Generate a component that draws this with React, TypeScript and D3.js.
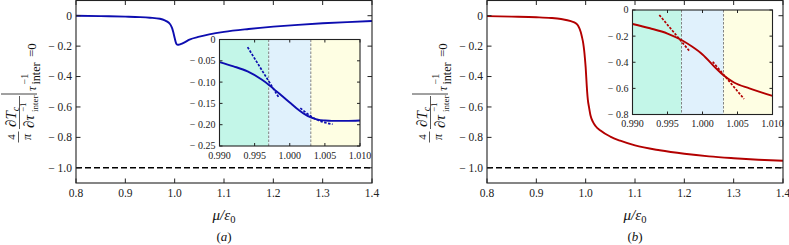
import * as React from 'react';
import * as d3 from 'd3';

// panel (a): main curve, mu / epsilon_0 against the normalised derivative
const muA: number[] = [0.8, 0.85, 0.9, 0.93, 0.95, 0.97, 0.98, 0.985, 0.99, 0.993, 0.995, 0.997, 1.0, 1.003, 1.005, 1.008, 1.012, 1.02, 1.03, 1.05, 1.07, 1.1, 1.15, 1.2, 1.25, 1.3, 1.35, 1.4];
const valA: number[] = [0, -0.003, -0.006, -0.009, -0.013, -0.02, -0.03, -0.039, -0.053, -0.068, -0.083, -0.106, -0.147, -0.182, -0.19, -0.191, -0.187, -0.175, -0.157, -0.138, -0.123, -0.106, -0.087, -0.072, -0.06, -0.05, -0.042, -0.035];

// panel (b): main curve
const muB: number[] = [0.8, 0.85, 0.9, 0.93, 0.95, 0.97, 0.98, 0.985, 0.99, 0.9925, 0.995, 0.997, 0.9985, 1.0, 1.002, 1.003, 1.0045, 1.0067, 1.01, 1.015, 1.02, 1.03, 1.05, 1.07, 1.1, 1.15, 1.2, 1.25, 1.3, 1.35, 1.4];
const valB: number[] = [-0.003, -0.006, -0.01, -0.015, -0.022, -0.036, -0.05, -0.068, -0.107, -0.14, -0.18, -0.23, -0.28, -0.34, -0.45, -0.5, -0.555, -0.6, -0.658, -0.7, -0.725, -0.755, -0.795, -0.822, -0.853, -0.885, -0.908, -0.925, -0.937, -0.947, -0.954];

// insets (zoom around mu = epsilon_0)
const insetMuA: number[] = [0.99, 0.992, 0.994, 0.996, 0.997, 0.998, 0.999, 1.0, 1.001, 1.002, 1.003, 1.004, 1.005, 1.006, 1.008, 1.01];
const insetValA: number[] = [-0.053, -0.063, -0.075, -0.094, -0.106, -0.12, -0.134, -0.148, -0.162, -0.174, -0.183, -0.188, -0.19, -0.191, -0.191, -0.19];
const insetMuB: number[] = [0.99, 0.9925, 0.995, 0.997, 0.9985, 1.0, 1.002, 1.003, 1.0045, 1.0067, 1.01];
const insetValB: number[] = [-0.107, -0.14, -0.18, -0.23, -0.28, -0.34, -0.45, -0.5, -0.555, -0.6, -0.658];

// asymptotic (dashed) approximations in the insets
const tangentMuA1: number[] = [0.994, 0.9984];
const tangentValA1: number[] = [-0.018, -0.135];
const tangentMuA2: number[] = [1.0015, 1.0036, 1.0061];
const tangentValA2: number[] = [-0.161, -0.186, -0.199];
const tangentMuB1: number[] = [0.99383, 0.99821];
const tangentValB1: number[] = [-0.038, -0.319];
const tangentMuB2: number[] = [1.00146, 1.00593];
const tangentValB2: number[] = [-0.396, -0.681];

// ticks and regions
const mainXTicks: number[] = [0.8, 0.9, 1.0, 1.1, 1.2, 1.3, 1.4];
const mainYTicks: number[] = [0, -0.2, -0.4, -0.6, -0.8, -1.0];
const insetXTicks: number[] = [0.99, 0.995, 1.0, 1.005, 1.01];
const insetYTicksA: number[] = [0, -0.05, -0.1, -0.15, -0.2, -0.25];
const insetYTicksB: number[] = [0, -0.2, -0.4, -0.6, -0.8];
const regionEdges: number[] = [0.99, 0.997, 1.003, 1.01];
const regionColors: string[] = ['#c3f6e8', '#e0f1fc', '#fefee3'];
const limitValue = -1.0;

const FONT = "'Liberation Serif', 'Times New Roman', Times, 'DejaVu Serif', serif";

const signed = (digits: number) => (v: number) =>
	Math.abs(v) < 1e-9 ? '0' : (v < 0 ? '\u2212 ' : '') + Math.abs(v).toFixed(digits);

interface IBox {
	left: number;
	right: number;
	top: number;
	bottom: number;
}

interface IPanel {
	box: IBox;
	mu: number[];
	val: number[];
	color: string;
	insetBox: IBox;
	insetMu: number[];
	insetVal: number[];
	insetYTicks: number[];
	insetDigits: number;
	tangents: [number[], number[]][];
	labelX: number;
	caption: string;
}

class ChartPanels extends React.Component<any, any> {
	private svgRef = React.createRef<SVGSVGElement>();

	public render() {
		return <svg ref={this.svgRef} width={789} height={245} style={{ display: 'block', fontFamily: FONT }} />;
	}

	public componentDidMount() {
		document.body.style.margin = '0';
		const svg = d3.select(this.svgRef.current);
		svg.selectAll('*').remove();
		svg.append('rect').attr('width', 789).attr('height', 245).attr('fill', '#fff');

		this.drawPanel(svg, {
			box: { left: 76, right: 372, top: 0.5, bottom: 183 },
			mu: muA,
			val: valA,
			color: '#0d0db0',
			insetBox: { left: 219.5, right: 360, top: 39.5, bottom: 146 },
			insetMu: insetMuA,
			insetVal: insetValA,
			insetYTicks: insetYTicksA,
			insetDigits: 2,
			tangents: [[tangentMuA1, tangentValA1], [tangentMuA2, tangentValA2]],
			labelX: 0,
			caption: 'a',
		});
		this.drawPanel(svg, {
			box: { left: 487, right: 783, top: 0.5, bottom: 183 },
			mu: muB,
			val: valB,
			color: '#b30000',
			insetBox: { left: 632.5, right: 772.5, top: 10, bottom: 114.5 },
			insetMu: insetMuB,
			insetVal: insetValB,
			insetYTicks: insetYTicksB,
			insetDigits: 1,
			tangents: [[tangentMuB1, tangentValB1], [tangentMuB2, tangentValB2]],
			labelX: 411,
			caption: 'b',
		});
	}

	public drawFrame(g: d3.Selection<any, any, any, any>, b: IBox, x: d3.ScaleLinear<number, number>, y: d3.ScaleLinear<number, number>,
		xTicks: number[], yTicks: number[], tick: number, fontSize: number, xFmt: (v: number) => string, yFmt: (v: number) => string): void {
		// ticks pointing inwards on all four sides
		xTicks.forEach((t) => {
			g.append('line').attr('x1', x(t)).attr('x2', x(t)).attr('y1', b.bottom).attr('y2', b.bottom - tick).attr('stroke', '#222').attr('stroke-width', 1);
			g.append('line').attr('x1', x(t)).attr('x2', x(t)).attr('y1', b.top).attr('y2', b.top + tick).attr('stroke', '#222').attr('stroke-width', 1);
			g.append('text').attr('x', x(t)).attr('y', b.bottom + fontSize * 1.25).attr('text-anchor', 'middle')
				.attr('font-size', fontSize).attr('font-family', FONT).attr('fill', '#222').text(xFmt(t));
		});
		yTicks.forEach((t) => {
			g.append('line').attr('x1', b.left).attr('x2', b.left + tick).attr('y1', y(t)).attr('y2', y(t)).attr('stroke', '#222').attr('stroke-width', 1);
			g.append('line').attr('x1', b.right).attr('x2', b.right - tick).attr('y1', y(t)).attr('y2', y(t)).attr('stroke', '#222').attr('stroke-width', 1);
			g.append('text').attr('x', b.left - 4).attr('y', y(t) + fontSize * 0.34).attr('text-anchor', 'end')
				.attr('font-size', fontSize).attr('font-family', FONT).attr('fill', '#222').text(yFmt(t));
		});
		g.append('rect').attr('x', b.left).attr('y', b.top).attr('width', b.right - b.left).attr('height', b.bottom - b.top)
			.attr('fill', 'none').attr('stroke', '#222').attr('stroke-width', 1.1);
	}

	public drawPanel(svg: d3.Selection<any, any, any, any>, p: IPanel): void {
		const b = p.box;
		const g = svg.append('g');
		const x = d3.scaleLinear().domain([0.8, 1.4]).range([b.left, b.right]);
		const y = d3.scaleLinear().domain([-1.1, 0.1]).range([b.bottom, b.top]);
		const line = d3.line<number>().x((d, i) => x(p.mu[i])).y((d) => y(d)).curve(d3.curveMonotoneX);

		// asymptote at -1
		g.append('line').attr('x1', b.left).attr('x2', b.right).attr('y1', y(limitValue)).attr('y2', y(limitValue))
			.attr('stroke', '#000').attr('stroke-width', 1.6).attr('stroke-dasharray', '6,3');
		g.append('path').attr('d', line(p.val)).attr('fill', 'none').attr('stroke', p.color).attr('stroke-width', 1.9);

		this.drawFrame(g, b, x, y, mainXTicks, mainYTicks, 4.5, 11.5, (v) => v.toFixed(1), signed(1));

		// inset
		const ib = p.insetBox;
		const ix = d3.scaleLinear().domain([0.99, 1.01]).range([ib.left, ib.right]);
		const iy = d3.scaleLinear().domain([p.insetYTicks[p.insetYTicks.length - 1], 0]).range([ib.bottom, ib.top]);
		const ig = g.append('g');
		regionColors.forEach((c, i) => {
			ig.append('rect').attr('x', ix(regionEdges[i])).attr('y', ib.top).attr('width', ix(regionEdges[i + 1]) - ix(regionEdges[i]))
				.attr('height', ib.bottom - ib.top).attr('fill', c);
		});
		regionEdges.slice(1, 3).forEach((e) => {
			ig.append('line').attr('x1', ix(e)).attr('x2', ix(e)).attr('y1', ib.top).attr('y2', ib.bottom)
				.attr('stroke', '#777').attr('stroke-width', 0.9).attr('stroke-dasharray', '2.5,1.5');
		});
		ig.append('path')
			.attr('d', d3.line<number>().x((d, i) => ix(p.insetMu[i])).y((d) => iy(d)).curve(d3.curveMonotoneX)(p.insetVal))
			.attr('fill', 'none').attr('stroke', p.color).attr('stroke-width', 1.9);
		p.tangents.forEach(([tm, tv]) => {
			ig.append('path')
				.attr('d', d3.line<number>().x((d, i) => ix(tm[i])).y((d) => iy(d)).curve(d3.curveMonotoneX)(tv))
				.attr('fill', 'none').attr('stroke', p.color).attr('stroke-width', 1.7).attr('stroke-dasharray', '2.5,1.5');
		});
		this.drawFrame(ig, ib, ix, iy, insetXTicks, p.insetYTicks, 3, 10, (v) => v.toFixed(3), signed(p.insetDigits));

		// x label and caption
		const cx = (b.left + b.right) / 2;
		const xl = g.append('text').attr('x', cx).attr('y', 220).attr('text-anchor', 'middle').attr('font-family', FONT)
			.attr('font-size', 15).attr('fill', '#111');
		xl.append('tspan').attr('font-style', 'italic').text('\u03bc/\u03b5');
		xl.append('tspan').attr('font-size', 10.5).attr('dy', 3).text('0');
		const cap = g.append('text').attr('x', cx).attr('y', 241).attr('text-anchor', 'middle').attr('font-family', FONT)
			.attr('font-size', 13).attr('fill', '#111');
		cap.append('tspan').text('(');
		cap.append('tspan').attr('font-style', 'italic').text(p.caption);
		cap.append('tspan').text(')');

		this.drawYLabel(g, p.labelX, 143);
	}

	public drawYLabel(parent: d3.Selection<any, any, any, any>, sx: number, sy: number): void {
		// rotated label: 4/pi dTc/d(tau_inter^-1) evaluated at tau_inter^-1 = 0
		const g = parent.append('g').attr('transform', `translate(${sx},${sy}) rotate(-90)`)
			.attr('font-family', FONT).attr('fill', '#111');
		const txt = (u: number, v: number, s: string, size: number, italic = false, anchor = 'start') =>
			g.append('text').attr('x', u).attr('y', v).attr('font-size', size).attr('text-anchor', anchor)
				.attr('font-family', FONT).attr('font-style', italic ? 'italic' : 'normal').text(s);
		const bar = (u1: number, u2: number, v: number) =>
			g.append('line').attr('x1', u1).attr('x2', u2).attr('y1', v).attr('y2', v).attr('stroke', '#111').attr('stroke-width', 0.7);

		txt(6, 15, '4', 11, false, 'middle');
		bar(0.5, 11.5, 18.5);
		txt(6, 31, '\u03c0', 12, true, 'middle');

		const num = txt(16, 16, '\u2202T', 15, true);
		num.append('tspan').attr('font-size', 10).attr('dy', 2.5).text('c');
		bar(14, 47, 19.5);
		txt(15, 34, '\u2202\u03c4', 15, true);
		txt(31, 26, '\u22121', 9);
		txt(31, 38, 'inter', 9);

		g.append('line').attr('x1', 49).attr('x2', 49).attr('y1', 1).attr('y2', 37).attr('stroke', '#111').attr('stroke-width', 0.8);

		txt(52, 36, '\u03c4', 13, true);
		txt(58.5, 28, '\u22121', 10);
		txt(58.5, 40, 'inter', 12);
		txt(86, 36, '=0', 13);
	}
}

export default function App() {
	return <ChartPanels />;
}
